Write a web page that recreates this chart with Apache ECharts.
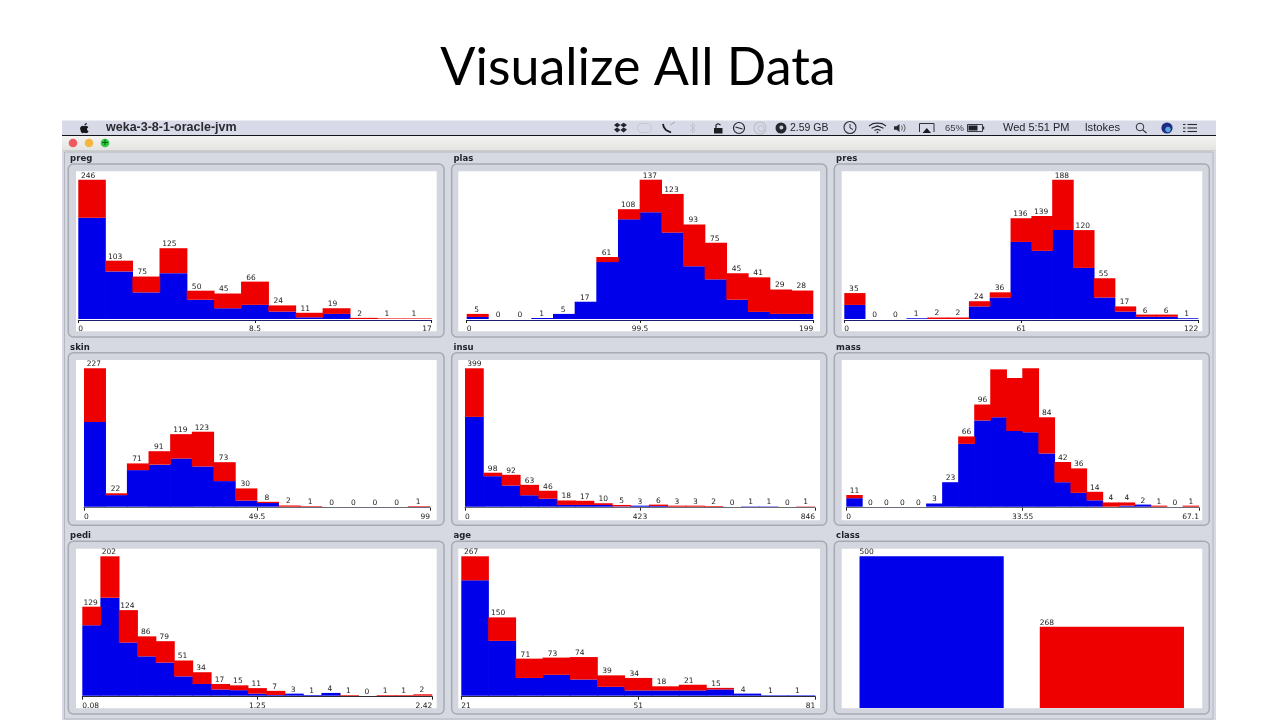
<!DOCTYPE html>
<html>
<head>
<meta charset="utf-8">
<style>html,body{margin:0;padding:0;background:#fff}#c{width:1280px;height:720px}</style>
<script src="https://cdn.jsdelivr.net/npm/echarts@6/dist/echarts.min.js"></script>
</head>
<body>
<div id="c"></div>
<script>
// ---- data ----
const pregBlue = [179,84,47,81,34,19,25,13,3,9,0,0,0];
const pregRed  = [67,19,28,44,16,26,41,11,8,10,2,1,1];
const pregLabels = ["246","103","75","125","50","45","66","24","11","19","2","1","1"];
const pregTicks = ["0","8.5","17"];

const plasBlue = [2,0,0,1,5,17,56,98,105,85,52,39,19,7,5,5];
const plasRed  = [3,0,0,0,0,0,5,10,32,38,41,36,26,34,24,23];
const plasLabels = ["5","0","0","1","5","17","61","108","137","123","93","75","45","41","29","28"];
const plasTicks = ["0","99.5","199"];

const presBlue = [19,0,0,1,0,0,17,29,104,92,120,69,29,10,3,3,1];
const presRed  = [16,0,0,0,2,2,7,7,32,47,68,51,26,7,3,3,0];
const presLabels = ["35","0","0","1","2","2","24","36","136","139","188","120","55","17","6","6","1"];
const presTicks = ["0","61","122"];

const skinBlue = [139,19,60,69,79,66,42,10,6,0,0,0,0,0,0,0];
const skinRed  = [88,3,11,22,40,57,31,20,2,2,1,0,0,0,0,1];
const skinLabels = ["227","22","71","91","119","123","73","30","8","2","1","0","0","0","0","1"];
const skinTicks = ["0","49.5","99"];

const insuBlue = [259,88,61,33,23,5,5,5,1,3,2,0,0,0,0,1,1,0,0];
const insuRed  = [140,10,31,30,23,13,12,5,4,0,4,3,3,2,0,0,0,0,1];
const insuLabels = ["399","98","92","63","46","18","17","10","5","3","6","3","3","2","0","1","1","0","1"];
const insuTicks = ["0","423","846"];

const massBlue = [8,0,0,0,0,3,23,59,81,84,71,70,50,23,13,6,0,1,2,0,0,0];
const massRed  = [3,0,0,0,0,0,0,7,15,45,50,60,34,19,23,8,4,3,0,1,0,1];
const massLabels = ["11","0","0","0","0","3","23","66","96","","","","84","42","36","14","4","4","2","1","0","1"];
const massTicks = ["0","33.55","67.1"];

const pediBlue = [102,142,77,57,48,28,17,9,8,3,1,3,1,4,0,0,0,0,0];
const pediRed  = [27,60,47,29,31,23,17,8,7,8,6,0,0,0,1,0,1,1,2];
const pediLabels = ["129","202","124","86","79","51","34","17","15","11","7","3","1","4","1","0","1","1","2"];
const pediTicks = ["0.08","1.25","2.42"];

const ageBlue = [221,105,34,40,31,17,10,10,10,12,4,1,1];
const ageRed  = [46,45,37,33,43,22,24,8,11,3,0,0,0];
const ageLabels = ["267","150","71","73","74","39","34","18","21","15","4","1","1"];
const ageTicks = ["21","51","81"];

const classBlue = [500,0];
const classRed  = [0,268];
const classLabels = ["500","268"];
const panelNames = ["preg","plas","pres","skin","insu","mass","pedi","age","class"];
const titleText = "Visualize All Data";

// ---- layout ----
const BLUE='#0000ea', RED='#ee0000';
const colX=[[68.3,444,76,436.7],[451.7,826.7,458.3,820],[834.3,1209.3,841.7,1202.3]];
const rowY=[[164,337,171.3,331.3],[352.7,525.3,360,520.3],[541.3,714,548.7,708.3]];
const rowLabelY=[159.2,347.7,536];
const axisCol=['#1c1c70','#6c6c76','#2c2c34'];
const panels=[
 {b:pregBlue,r:pregRed,l:pregLabels,t:pregTicks,x0:78.3,x1:431.7,top:179.7,base:319,row:0,off:-4},
 {b:plasBlue,r:plasRed,l:plasLabels,t:plasTicks,x0:466.7,x1:813.3,top:179.7,base:319,row:0,off:-1},
 {b:presBlue,r:presRed,l:presLabels,t:presTicks,x0:844.3,x1:1198.3,top:179.7,base:319,row:0,off:-1},
 {b:skinBlue,r:skinRed,l:skinLabels,t:skinTicks,x0:84,x1:430,top:368.3,base:506.7,row:1,off:-1},
 {b:insuBlue,r:insuRed,l:insuLabels,t:insuTicks,x0:465,x1:815,top:368.3,base:506.7,row:1,off:0},
 {b:massBlue,r:massRed,l:massLabels,t:massTicks,x0:846.3,x1:1199,top:368.3,base:506.7,row:1,off:0},
 {b:pediBlue,r:pediRed,l:pediLabels,t:pediTicks,x0:82.3,x1:432.3,top:556.3,base:695.7,row:2,off:-1},
 {b:ageBlue,r:ageRed,l:ageLabels,t:ageTicks,x0:461.3,x1:815.3,top:556.3,base:695.7,row:2,off:-4},
 {b:classBlue,r:classRed,l:classLabels,t:null,x0:841.5,x1:1202,top:556.3,base:708,row:2,off:0}
];

const grid=[],xAxis=[],yAxis=[],series=[];
const labelFont='"DejaVu Sans"';
panels.forEach((p,i)=>{
  const isClass=!p.t;
  const totals=p.b.map((v,k)=>v+p.r[k]);
  grid.push({left:p.x0,top:p.top,width:p.x1-p.x0,height:p.base-p.top,containLabel:false});
  const xi=xAxis.length;
  xAxis.push({type:'category',gridIndex:i,data:p.l.map((_,k)=>String(k)),show:false});
  yAxis.push({type:'value',gridIndex:i,min:0,max:Math.max(...totals),show:false});
  // adjacent histogram bins overlap by a fraction of a pixel so no anti-aliasing seam shows between them
  const sizing=isClass?{barCategoryGap:'20%'}:{barWidth:(p.x1-p.x0)/p.b.length+0.7};
  series.push(Object.assign({type:'bar',stack:'s'+i,xAxisIndex:xi,yAxisIndex:i,data:p.b,
    itemStyle:{color:BLUE},silent:true},sizing));
  series.push(Object.assign({type:'bar',stack:'s'+i,xAxisIndex:xi,yAxisIndex:i,data:p.r,
    itemStyle:{color:RED},silent:true,
    label:{show:true,
      position:isClass?[0,-8]:'top',distance:0,offset:isClass?[0,0]:[p.off,0],
      fontFamily:labelFont,fontSize:7.5,color:'#222',
      formatter:o=>p.l[o.dataIndex]}},sizing));
  if(!isClass){
    xAxis.push({type:'category',gridIndex:i,position:'bottom',offset:1,boundaryGap:false,data:p.t,
      axisLine:{show:true,onZero:false,lineStyle:{color:axisCol[p.row],width:1}},
      axisTick:{show:true,length:3,inside:false,alignWithLabel:true,lineStyle:{color:'#222'}},
      axisLabel:{show:true,interval:0,margin:5,fontFamily:labelFont,fontSize:7.5,color:'#222',
        alignMinLabel:'left',alignMaxLabel:'right'}});
  }
});

// ---- window chrome (not data) ----
const g=[];
const rect=(x,y,w,h,fill,extra)=>g.push(Object.assign({type:'rect',silent:true,z:0,shape:{x,y,width:w,height:h,r:(extra&&extra.r)||0},style:{fill}},extra&&extra.more));
const txt=(x,y,s,font,fill,align)=>g.push({type:'text',silent:true,z:1,x,y,style:{text:s,font,fill:fill||'#222',textAlign:align||'left',textVerticalAlign:'middle'}});
const circ=(x,y,r,fill,stroke,lw)=>g.push({type:'circle',silent:true,z:1,shape:{cx:x,cy:y,r},style:{fill:fill||'none',stroke:stroke||'none',lineWidth:lw||1}});
const polyg=(pts,fill)=>g.push({type:'polygon',silent:true,z:1,shape:{points:pts},style:{fill}});
const line=(pts,stroke,lw)=>g.push({type:'polyline',silent:true,z:1,shape:{points:pts},style:{fill:'none',stroke,lineWidth:lw||1}});
const vgrad=(a,b)=>({type:'linear',x:0,y:0,x2:0,y2:1,colorStops:[{offset:0,color:a},{offset:1,color:b}]});

rect(62,120.5,1154,15,'#d9dae8');
rect(62,135,1154,1,'#15151c');
rect(62,136,1154,15,vgrad('#f3f3f1','#e3e3e1'));
rect(62,150.5,1154,1,'#b8b8b8');
rect(62,151.5,1154,568.5,'#d6d9e1');
rect(64.5,152,1148.5,567,'none',{more:{style:{fill:'none',stroke:'#b4b7bf',lineWidth:1}}});
circ(73,143,4.3,'#ef5a5e');
circ(89,143,4.3,'#f5b640');
circ(105,143,4.3,'#2cc83f');
txt(105,142.7,'+','bold 9px "DejaVu Sans"','#0a5d12','center');

panelNames.forEach((nm,i)=>{
  const c=colX[i%3], r=rowY[Math.floor(i/3)];
  rect(c[0],r[0],c[1]-c[0],r[1]-r[0],'#d3d6de',{r:5,more:{style:{fill:'#d3d6de',stroke:'#a6aab2',lineWidth:1.5}}});
  rect(c[2],r[2],c[3]-c[2],r[3]-r[2],'#ffffff');
  txt(c[0]+1.8,rowLabelY[Math.floor(i/3)],nm,'bold 8.5px "DejaVu Sans"','#23232b');
});

// menu bar
polyg([[84,125.5],[85,123.8],[87,122.8],[86.6,124.6]],'#16161a');
polyg([[80,128],[81,126.4],[82.6,125.8],[84,126.2],[85.6,125.7],[87.4,126.3],[88.3,127.2],[87,128.6],[87.2,130.2],[88.6,131.2],[87.6,132.8],[86,133.2],[84,132.7],[82,133.2],[80.8,131.6]],'#16161a');
txt(106,128,'weka-3-8-1-oracle-jvm','bold 12.5px "Liberation Sans"','#2a2a30');
// dropbox
polyg([[614,125],[617.2,122.8],[620.4,125],[617.2,127.5]],'#23232b');
polyg([[620.4,125],[623.6,122.8],[627,125],[623.6,127.5]],'#23232b');
polyg([[614,129.5],[617.2,127.5],[620.4,130],[617.2,132.5]],'#23232b');
polyg([[620.4,130],[623.6,127.5],[627,129.5],[623.6,132.5]],'#23232b');
// speech bubble
rect(637.5,123.5,14,9,'none',{r:4.5,more:{style:{fill:'none',stroke:'#c4c6d2',lineWidth:1}}});
// phone
line([[663,124],[663.8,127],[666,130],[671,132.5]],'#1c1c24',1.8);
line([[670,125],[675,122]],'#a8aab8',1);
// bluetooth
line([[690,125],[695,130],[692.5,133],[692.5,123],[695,126],[690,131]],'#c2c4d0',1);
// lock
rect(714,128,8.5,5.5,'#1d1d24');
line([[716,128],[716,125],[718,123.6],[720.5,125]],'#1d1d24',1.2);
// sync circle
circ(739,128,5.5,'none','#26262e',1.2);
line([[735.5,127],[742.5,129]],'#26262e',1.2);
// swirl
circ(760,128,6,'none','#bcbec9',1.1); circ(761,128.5,3,'none','#bcbec9',1);
// memory eye
circ(781,128,5.5,'#26262e'); circ(781.4,127.6,2,'#c8c9d4');
txt(790,128,'2.59 GB','10.5px "Liberation Sans"','#26262e');
// time machine
circ(850,127.5,6,'none','#30303a',1.1);
line([[850,124],[850,128],[853,129.5]],'#30303a',1);
// wifi
line([[869,126],[873,123.6],[877.5,123],[882,123.6],[886,126]],'#23232b',1.2);
line([[871.5,128.3],[877.5,126],[883.5,128.3]],'#23232b',1.2);
line([[874.5,130.5],[877.5,129.3],[880.5,130.5]],'#23232b',1.2);
circ(877.5,132.3,0.9,'#23232b');
// volume
polyg([[894,126.3],[896.5,126.3],[899.5,124],[899.5,132],[896.5,129.7],[894,129.7]],'#2a2a32');
line([[901.5,125.5],[902.4,128],[901.5,130.5]],'#55555f',0.9);
line([[903.7,124],[905.2,128],[903.7,132]],'#55555f',0.9);
// airplay
line([[919.5,132],[919.5,123.5],[934,123.5],[934,132]],'#30303a',1);
polyg([[922.5,133],[926.8,128],[931,133]],'#1c1c24');
txt(945,128,'65%','9.5px "Liberation Sans"','#3a3a44');
// battery
rect(967.5,124.5,15,7,'none',{more:{style:{fill:'none',stroke:'#2a2a32',lineWidth:0.9}}});
rect(968.5,125.5,9,5,'#1f1f27');
rect(983,126.5,1.2,3,'#2a2a32');
txt(1003,128,'Wed 5:51 PM','11px "Liberation Sans"','#26262e');
txt(1085,128,'lstokes','11.3px "Liberation Sans"','#26262e');
// search
circ(1140,127,3.8,'none','#30303a',1);
line([[1142.8,129.8],[1146.5,133]],'#30303a',1.1);
// siri
circ(1167,128,5.6,'#1d2a86'); circ(1168,129.5,2.7,'#58a8d8');
// list
[124.5,128,131.5].forEach(y=>{line([[1183,y],[1185.5,y]],'#2a2a32',1.1);line([[1187.5,y],[1197,y]],'#2a2a32',1.1);});

const chart=echarts.init(document.getElementById('c'),null,{renderer:'canvas'});
chart.setOption({
  animation:false,
  backgroundColor:'#ffffff',
  title:{text:titleText,left:633,top:37,textAlign:'center',
    textStyle:{fontFamily:'Lato',fontWeight:'normal',fontSize:52,color:'#000'}},
  graphic:{elements:g},
  grid,xAxis,yAxis,series
});
</script>
</body>
</html>
